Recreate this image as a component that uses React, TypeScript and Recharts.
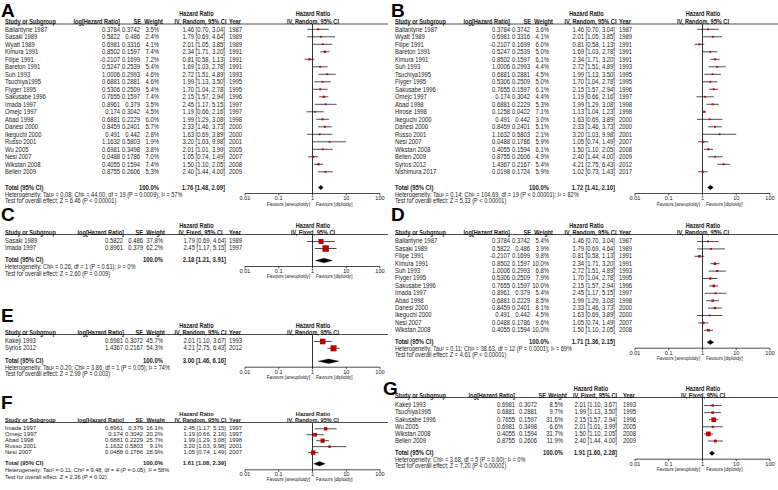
import React from 'react';
import { ScatterChart, Scatter, XAxis, YAxis, ErrorBar, ReferenceLine } from 'recharts';

// [study, log HR, SE, weight %, HR, CI low, CI high, year]
type Row = [string, number, number, number, number, number, number, number];

const rowsA: Row[] = [
  ['Ballantyne 1987', 0.3784, 0.3742, 3.5, 1.46, 0.7, 3.04, 1987],
  ['Sasaki 1989', 0.5822, 0.486, 2.4, 1.79, 0.69, 4.64, 1989],
  ['Wyatt 1989', 0.6981, 0.3316, 4.1, 2.01, 1.05, 3.85, 1989],
  ['Kimura 1991', 0.8502, 0.1597, 7.4, 2.34, 1.71, 3.2, 1991],
  ['Filipe 1991', -0.2107, 0.1699, 7.2, 0.81, 0.58, 1.13, 1991],
  ['Bareton 1991', 0.5247, 0.2539, 5.4, 1.69, 1.03, 2.78, 1991],
  ['Suh 1993', 1.0006, 0.2993, 4.6, 2.72, 1.51, 4.89, 1993],
  ['Tsuchiya1995', 0.6881, 0.2881, 4.6, 1.99, 1.13, 3.5, 1995],
  ['Flyger 1995', 0.5306, 0.2509, 5.4, 1.7, 1.04, 2.78, 1995],
  ['Sakusabe 1996', 0.7655, 0.1597, 7.4, 2.15, 1.57, 2.94, 1996],
  ['Imada 1997', 0.8961, 0.379, 3.5, 2.45, 1.17, 5.15, 1997],
  ['Omejc 1997', 0.174, 0.3042, 4.5, 1.19, 0.66, 2.16, 1997],
  ['Abad 1998', 0.6881, 0.2229, 6.0, 1.99, 1.29, 3.08, 1998],
  ['Danesi 2000', 0.8459, 0.2401, 5.7, 2.33, 1.46, 3.73, 2000],
  ['Ikeguchi 2000', 0.491, 0.442, 2.8, 1.63, 0.69, 3.89, 2000],
  ['Russo 2001', 1.1632, 0.5803, 1.9, 3.2, 1.03, 9.98, 2001],
  ['Wu 2005', 0.6981, 0.3498, 3.8, 2.01, 1.01, 3.99, 2005],
  ['Nesi 2007', 0.0488, 0.1786, 7.0, 1.05, 0.74, 1.49, 2007],
  ['Wikstan 2008', 0.4055, 0.1594, 7.4, 1.5, 1.1, 2.05, 2008],
  ['Bellen 2009', 0.8755, 0.2606, 5.3, 2.4, 1.44, 4.0, 2009],
];

const rowsB: Row[] = [
  ['Ballantyne 1987', 0.3784, 0.3742, 3.6, 1.46, 0.7, 3.04, 1987],
  ['Wyatt 1989', 0.6981, 0.3316, 4.1, 2.01, 1.05, 3.85, 1989],
  ['Filipe 1991', -0.2107, 0.1699, 6.0, 0.81, 0.58, 1.13, 1991],
  ['Bareton 1991', 0.5247, 0.2539, 5.0, 1.69, 1.03, 2.78, 1991],
  ['Kimura 1991', 0.8502, 0.1597, 6.1, 2.34, 1.71, 3.2, 1991],
  ['Suh 1993', 1.0006, 0.2993, 4.4, 2.72, 1.51, 4.89, 1993],
  ['Tsuchiya1995', 0.6881, 0.2881, 4.5, 1.99, 1.13, 3.5, 1995],
  ['Flyger 1995', 0.5306, 0.2509, 5.0, 1.7, 1.04, 2.78, 1995],
  ['Sakusabe 1996', 0.7655, 0.1597, 6.1, 2.15, 1.57, 2.94, 1996],
  ['Omejc 1997', 0.174, 0.3042, 4.4, 1.19, 0.66, 2.16, 1997],
  ['Abad 1998', 0.6881, 0.2229, 5.3, 1.99, 1.29, 3.08, 1998],
  ['Hirose 1998', 0.1258, 0.0422, 7.1, 1.13, 1.04, 1.23, 1998],
  ['Ikeguchi 2000', 0.491, 0.442, 3.0, 1.63, 0.69, 3.89, 2000],
  ['Danesi 2000', 0.8459, 0.2401, 5.1, 2.33, 1.46, 3.73, 2000],
  ['Russo 2001', 1.1632, 0.5803, 2.1, 3.2, 1.03, 9.98, 2001],
  ['Nesi 2007', 0.0488, 0.1786, 5.9, 1.05, 0.74, 1.49, 2007],
  ['Wikstan 2008', 0.4055, 0.1594, 6.1, 1.5, 1.1, 2.05, 2008],
  ['Bellen 2009', 0.8755, 0.2606, 4.9, 2.4, 1.44, 4.0, 2009],
  ['Syrios 2012', 1.4367, 0.2167, 5.4, 4.21, 2.75, 6.43, 2012],
  ['Nishimura 2017', 0.0198, 0.1724, 5.9, 1.02, 0.73, 1.43, 2017],
];

const rowsC: Row[] = [
  ['Sasaki 1989', 0.5822, 0.486, 37.8, 1.79, 0.69, 4.64, 1989],
  ['Imada 1997', 0.8961, 0.379, 62.2, 2.45, 1.17, 5.15, 1997],
];

const rowsD: Row[] = [
  ['Ballantyne 1987', 0.3784, 0.3742, 5.4, 1.46, 0.7, 3.04, 1987],
  ['Sasaki 1989', 0.5822, 0.486, 3.9, 1.79, 0.69, 4.64, 1989],
  ['Filipe 1991', -0.2107, 0.1699, 9.8, 0.81, 0.58, 1.13, 1991],
  ['Kimura 1991', 0.8502, 0.1597, 10.0, 2.34, 1.71, 3.2, 1991],
  ['Suh 1993', 1.0006, 0.2993, 6.8, 2.72, 1.51, 4.89, 1993],
  ['Flyger 1995', 0.5306, 0.2509, 7.9, 1.7, 1.04, 2.78, 1995],
  ['Sakusabe 1996', 0.7655, 0.1597, 10.0, 2.15, 1.57, 2.94, 1996],
  ['Imada 1997', 0.8961, 0.379, 5.4, 2.45, 1.17, 5.15, 1997],
  ['Abad 1998', 0.6881, 0.2229, 8.5, 1.99, 1.29, 3.08, 1998],
  ['Danesi 2000', 0.8459, 0.2401, 8.1, 2.33, 1.46, 3.73, 2000],
  ['Ikeguchi 2000', 0.491, 0.442, 4.5, 1.63, 0.69, 3.89, 2000],
  ['Nesi 2007', 0.0488, 0.1786, 9.6, 1.05, 0.74, 1.49, 2007],
  ['Wikstan 2008', 0.4055, 0.1594, 10.0, 1.5, 1.1, 2.05, 2008],
];

const rowsE: Row[] = [
  ['Kakeji 1993', 0.6981, 0.3072, 45.7, 2.01, 1.1, 3.67, 1993],
  ['Syrios 2012', 1.4367, 0.2167, 54.3, 4.21, 2.75, 6.43, 2012],
];

const rowsF: Row[] = [
  ['Imada 1997', 0.8961, 0.379, 16.1, 2.45, 1.17, 5.15, 1997],
  ['Omejc 1997', 0.174, 0.3042, 20.2, 1.19, 0.66, 2.16, 1997],
  ['Abad 1998', 0.6881, 0.2229, 25.7, 1.99, 1.29, 3.08, 1998],
  ['Russo 2001', 1.1632, 0.5803, 9.1, 3.2, 1.03, 9.98, 2001],
  ['Nesi 2007', 0.0488, 0.1786, 28.9, 1.05, 0.74, 1.49, 2007],
];

const rowsG: Row[] = [
  ['Kakeji 1993', 0.6981, 0.3072, 8.5, 2.01, 1.1, 3.67, 1993],
  ['Tsuchiya1995', 0.6881, 0.2881, 9.7, 1.99, 1.13, 3.5, 1995],
  ['Sakusabe 1996', 0.7655, 0.1597, 31.6, 2.15, 1.57, 2.94, 1996],
  ['Wu 2005', 0.6981, 0.3498, 6.6, 2.01, 1.01, 3.99, 2005],
  ['Wikstan 2008', 0.4055, 0.1594, 31.7, 1.5, 1.1, 2.05, 2008],
  ['Bellen 2009', 0.8755, 0.2606, 11.9, 2.4, 1.44, 4.0, 2009],
];

// pooled [HR, low, high]
const totalA = [1.76, 1.48, 2.09];
const totalB = [1.72, 1.41, 2.1];
const totalC = [2.18, 1.21, 3.91];
const totalD = [1.71, 1.36, 2.15];
const totalE = [3.0, 1.46, 6.16];
const totalF = [1.61, 1.08, 2.39];
const totalG = [1.91, 1.6, 2.28];

const hetA = ['Heterogeneity: Tau² = 0.08; Chi² = 44.00, df = 19 (P = 0.0009); I² = 57%', 'Test for overall effect: Z = 6.46 (P < 0.00001)'];
const hetB = ['Heterogeneity: Tau² = 0.14; Chi² = 104.69, df = 19 (P < 0.00001); I² = 82%', 'Test for overall effect: Z = 5.33 (P < 0.00001)'];
const hetC = ['Heterogeneity: Chi² = 0.26, df = 1 (P = 0.61); I² = 0%', 'Test for overall effect: Z = 2.60 (P = 0.009)'];
const hetD = ['Heterogeneity: Tau² = 0.11; Chi² = 38.63, df = 12 (P = 0.0001); I² = 69%', 'Test for overall effect: Z = 4.61 (P < 0.00001)'];
const hetE = ['Heterogeneity: Tau² = 0.20; Chi² = 3.86, df = 1 (P = 0.05); I² = 74%', 'Test for overall effect: Z = 2.99 (P = 0.003)'];
const hetF = ['Heterogeneity: Tau² = 0.11; Chi² = 9.48, df = 4 (P = 0.05); I² = 58%', 'Test for overall effect: Z = 2.36 (P = 0.02)'];
const hetG = ['Heterogeneity: Chi² = 3.68, df = 5 (P = 0.60); I² = 0%', 'Test for overall effect: Z = 7.20 (P < 0.00001)'];

const axisTicks = [0.01, 0.1, 1, 10, 100];

const FONT = '"Liberation Sans", Arial, sans-serif';
const SX = 0.88; // glyphs in the reference are a little condensed
const FS = 6.7;
const FS_HEAD = 6.4;
const INK = '#222';
const RED = '#c00000';

// column positions, relative to panel left
const colsWide = { logR: 120, logHR: 120, seR: 140, seHR: 141, wR: 159, wHR: 163, ciR: 225, ciHC: 200.5, yearL: 229 };
const colsMid = { logR: 123, logHR: 124, seR: 143, seHR: 143, wR: 163, wHR: 165, ciR: 226, ciHC: 200.5, yearL: 229 };
const colsG = { logR: 125, logHR: 125, seR: 147, seHR: 156, wR: 173, wHR: 177, ciR: 227, ciHC: 205, yearL: 233 };

type Panel = {
  letter: string; x0: number; letterY: number; hrY: number; colY: number; lineY: number;
  row0: number; step: number; totalY: number; method: string; cols: typeof colsWide;
  rows: Row[]; total: number[]; het: string[]; k: number;
};

const panels: Panel[] = [
  { letter: 'A', x0: 0, letterY: 3, hrY: 13.5, colY: 21.5, lineY: 24, row0: 29.3, step: 7.5, totalY: 187.5, method: 'IV, Random, 95% CI', cols: colsWide, rows: rowsA, total: totalA, het: hetA, k: 1 },
  { letter: 'B', x0: 390, letterY: 3, hrY: 13.5, colY: 21.5, lineY: 24, row0: 29.3, step: 7.5, totalY: 187.5, method: 'IV, Random, 95% CI', cols: colsWide, rows: rowsB, total: totalB, het: hetB, k: 1 },
  { letter: 'C', x0: 0, letterY: 207, hrY: 226, colY: 232.5, lineY: 234.5, row0: 241, step: 7, totalY: 260, method: 'IV, Fixed, 95% CI', cols: colsMid, rows: rowsC, total: totalC, het: hetC, k: 1 },
  { letter: 'D', x0: 390, letterY: 207, hrY: 226, colY: 232.5, lineY: 234.5, row0: 241, step: 7.4, totalY: 341.7, method: 'IV, Random, 95% CI', cols: colsWide, rows: rowsD, total: totalD, het: hetD, k: 1 },
  { letter: 'E', x0: 0, letterY: 308, hrY: 326, colY: 332.5, lineY: 334.5, row0: 341, step: 6.8, totalY: 360.7, method: 'IV, Random, 95% CI', cols: colsMid, rows: rowsE, total: totalE, het: hetE, k: 1 },
  { letter: 'F', x0: 0, letterY: 395, hrY: 414, colY: 420.5, lineY: 422.5, row0: 428.3, step: 5.95, totalY: 463.3, method: 'IV, Random, 95% CI', cols: colsMid, rows: rowsF, total: totalF, het: hetF, k: 0.86 },
  { letter: 'G', x0: 390, letterY: 381, hrY: 389, colY: 395.5, lineY: 397.5, row0: 405, step: 7.1, totalY: 452.7, method: 'IV, Fixed, 95% CI', cols: colsG, rows: rowsG, total: totalG, het: hetG, k: 1 },
];

const PLOT_L = 238; // chart box left, relative to panel
const PLOT_W = 150;
const AXIS_H = 12;

const Square = (props: any) => {
  const { cx, cy, payload } = props;
  const s = Math.max(1.8, 0.82 * Math.sqrt(payload.w));
  return <rect x={cx - s / 2} y={cy - s / 2} width={s} height={s} fill={RED} />;
};

const Nothing = () => <g />;

const Diamond = (props: any) => {
  const pts = (props.points || []).map((p: any) => `${p.x},${p.y}`).join(' ');
  return <polygon points={pts} fill="#000" stroke="#000" strokeWidth={0.3} />;
};

function ForestPlot({ p }: { p: Panel }) {
  const axisY = p.totalY + 6;
  const H = axisY - p.lineY;
  const dMin = -(p.row0 - p.lineY) / p.step;
  const dMax = (axisY - p.row0) / p.step;
  const tIdx = (p.totalY - p.row0) / p.step;
  const dh = 2.3 / p.step;
  const points = p.rows.map((r, i) => ({ hr: r[4], y: i, w: r[3], err: [r[4] - r[5], r[6] - r[4]] }));
  const diamond = [
    { hr: p.total[1], y: tIdx },
    { hr: p.total[0], y: tIdx - dh },
    { hr: p.total[2], y: tIdx },
    { hr: p.total[0], y: tIdx + dh },
  ];
  return (
    <div style={{ position: 'absolute', left: p.x0 + PLOT_L, top: p.lineY }}>
      <ScatterChart width={PLOT_W} height={H + AXIS_H} margin={{ top: 0, right: 8, bottom: 0, left: 7 }}>
        <XAxis
          type="number"
          dataKey="hr"
          scale="log"
          domain={[0.01, 100]}
          allowDataOverflow
          ticks={axisTicks}
          tickFormatter={(v: number) => String(v)}
          height={AXIS_H}
          tickSize={2}
          tickMargin={0.6}
          tick={{ fontSize: 5.6, fill: INK, fontFamily: FONT }}
          axisLine={{ stroke: '#000', strokeWidth: 0.7 }}
          tickLine={{ stroke: '#000', strokeWidth: 0.7 }}
          interval={0}
        />
        <YAxis type="number" dataKey="y" domain={[dMin, dMax]} reversed hide allowDataOverflow />
        <ReferenceLine x={1} stroke="#000" strokeWidth={0.8} />
        <Scatter data={points} shape={Square} isAnimationActive={false}>
          <ErrorBar dataKey="err" direction="x" width={0} stroke="#000" strokeWidth={0.7} isAnimationActive={false} />
        </Scatter>
        <Scatter data={diamond} shape={Nothing} line={Diamond} lineType="joint" isAnimationActive={false} />
      </ScatterChart>
    </div>
  );
}

function PanelText({ p }: { p: Panel }) {
  const c = p.cols;
  // shorter rows get a smaller font; widen it back so the columns keep their widths
  const sx = SX / p.k;
  const x = (v: number) => (p.x0 + v) / sx;
  const axisY = p.totalY + 6;
  const t = (key: string, xx: number, yy: number, s: string, anchor = 'start', bold = false, size = FS) => (
    <text key={key} x={xx} y={yy} dy="0.35em" textAnchor={anchor} fontWeight={bold ? 'bold' : 'normal'} fontSize={size * p.k}>{s}</text>
  );
  const h = (key: string, xx: number, yy: number, s: string, anchor = 'start') => t(key, xx, yy, s, anchor, true, FS_HEAD);
  return (
    <g>
      <text x={p.x0 + (p.letter === 'G' ? -7 : 1)} y={p.letterY} dy="0.72em" fontSize={19} fontWeight="bold" fill="#000">{p.letter}</text>
      <g transform={`scale(${sx},1)`}>
        {h('hr1', x(c.ciHC - 4), p.hrY, 'Hazard Ratio', 'middle')}
        {h('hr2', x(313), p.hrY, 'Hazard Ratio', 'middle')}
        {h('h1', x(5), p.colY, 'Study or Subgroup')}
        {h('h2', x(c.logHR), p.colY, 'log[Hazard Ratio]', 'end')}
        {h('h3', x(c.seHR), p.colY, 'SE', 'end')}
        {h('h4', x(c.wHR), p.colY, 'Weight', 'end')}
        {h('h5', x(c.ciHC), p.colY, p.method, 'middle')}
        {h('h6', x(c.yearL), p.colY, 'Year')}
        {h('h7', x(313), p.colY, p.method, 'middle')}
        {p.rows.map((r, i) => {
          const yy = p.row0 + i * p.step;
          return (
            <g key={i}>
              {t('s', x(5), yy, r[0])}
              {t('l', x(c.logR), yy, String(r[1]), 'end')}
              {t('e', x(c.seR), yy, String(r[2]), 'end')}
              {t('w', x(c.wR), yy, r[3].toFixed(1) + '%', 'end')}
              {t('c', x(c.ciR), yy, `${r[4].toFixed(2)} [${r[5].toFixed(2)}, ${r[6].toFixed(2)}]`, 'end')}
              {t('y', x(c.yearL), yy, String(r[7]))}
            </g>
          );
        })}
        {t('tt', x(5), p.totalY, 'Total (95% CI)', 'start', true)}
        {t('tw', x(c.wR), p.totalY, '100.0%', 'end', true)}
        {t('tc', x(c.ciR), p.totalY, `${p.total[0].toFixed(2)} [${p.total[1].toFixed(2)}, ${p.total[2].toFixed(2)}]`, 'end', true)}
        {t('het', x(5), p.totalY + 7, p.het[0], 'start', false, 6.4)}
        {t('tst', x(5), p.totalY + 13.5, p.het[1], 'start', false, 6.4)}
        {t('fa', x(310), axisY + 10.5, 'Favours [aneuploidy]', 'end', false, 5.3)}
        {t('fd', x(316), axisY + 10.5, 'Favours [diploidy]', 'start', false, 5.3)}
      </g>
      <line x1={p.x0 + 5} x2={p.x0 + 388} y1={p.lineY} y2={p.lineY} stroke="#000" strokeWidth={0.7} />
    </g>
  );
}

export default function App() {
  return (
    <div style={{ position: 'absolute', left: 0, top: 0, width: 778, height: 490, background: '#fff', overflow: 'hidden', fontFamily: FONT }}>
      {panels.map((p) => (
        <ForestPlot key={p.letter} p={p} />
      ))}
      <svg width={778} height={490} style={{ position: 'absolute', left: 0, top: 0, pointerEvents: 'none' }} fontFamily={FONT} fontSize={FS} fill={INK}>
        {panels.map((p) => (
          <PanelText key={p.letter} p={p} />
        ))}
      </svg>
    </div>
  );
}
